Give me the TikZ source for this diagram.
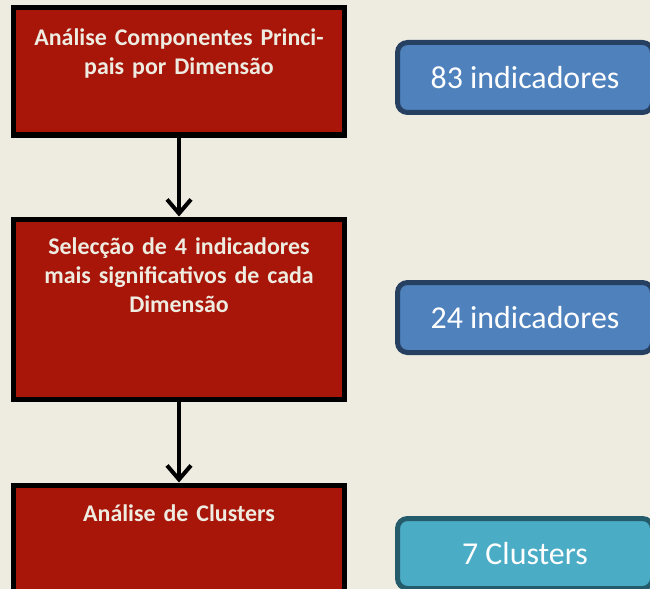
\documentclass[tikz,border=0pt]{standalone}
\usepackage{fontspec}
\setmainfont{Carlito}
\newfontfamily\stepfont{Carlito}[WordSpace=0.85]
\usetikzlibrary{positioning, arrows.meta}
\definecolor{slidebg}{RGB}{238,236,225}
\definecolor{boxred}{RGB}{168,21,9}
\definecolor{countblue}{RGB}{79,129,189}
\definecolor{countblueedge}{RGB}{38,64,98}
\definecolor{clustercyan}{RGB}{75,172,198}
\definecolor{clustercyanedge}{RGB}{36,92,108}
\tikzset{
	stepbox/.style={draw=black, rectangle, line width=5bp, inner sep=0pt, minimum width=330bp, fill=boxred},
	steptext/.style={anchor=north, text width=320bp, align=center, inner sep=0pt, font=\stepfont\fontsize{24}{29}\selectfont\bfseries, text=slidebg},
	count/.style={draw=countblueedge, rectangle, rounded corners=10bp, line width=5bp, inner sep=0pt, minimum width=255bp, minimum height=70bp, fill=countblue, text=white, font=\fontsize{32}{38}\selectfont},
	cluster/.style={count, draw=clustercyanedge, fill=clustercyan},
}

\begin{document}
\begin{tikzpicture}[x=1bp, y=-1bp]
	\fill[slidebg] (0,0) rectangle (650,589);
	\useasboundingbox (0,0) rectangle (650,589);
	
	\node (acp) [stepbox, minimum height=127bp] at (179,71.5) {};
	\node (acptxt) [steptext, below=23bp of acp.north] {Análise Componentes Princi-\\pais por Dimensão};
	
	\node (sel) [stepbox, minimum height=180bp, below=79bp of acp] {};
	\node (seltxt) [steptext, below=21bp of sel.north] {Selecção de 4 indicadores\\mais significativos de cada\\Dimensão};
	
	\node (clu) [stepbox, minimum height=180bp, below=81bp of sel] {};
	\node (clutxt) [steptext, below=22bp of clu.north] {Análise de Clusters};
	
	\node (n83) [count, right=48.5bp of acp, yshift=-6bp] {83 indicadores};
	\node (n24) [count, right=48.5bp of sel, yshift=-8.5bp] {24 indicadores};
	\node (n7) [cluster, right=48.5bp of clu, yshift=21.5bp] {7 Clusters};
	
	\begin{scope}[line width=4bp, black, ->, >={Straight Barb[length=14bp, width=24bp]}]
		\draw (acp) -- (sel);
		\draw (sel) -- (clu);
	\end{scope}
\end{tikzpicture}
\end{document}
